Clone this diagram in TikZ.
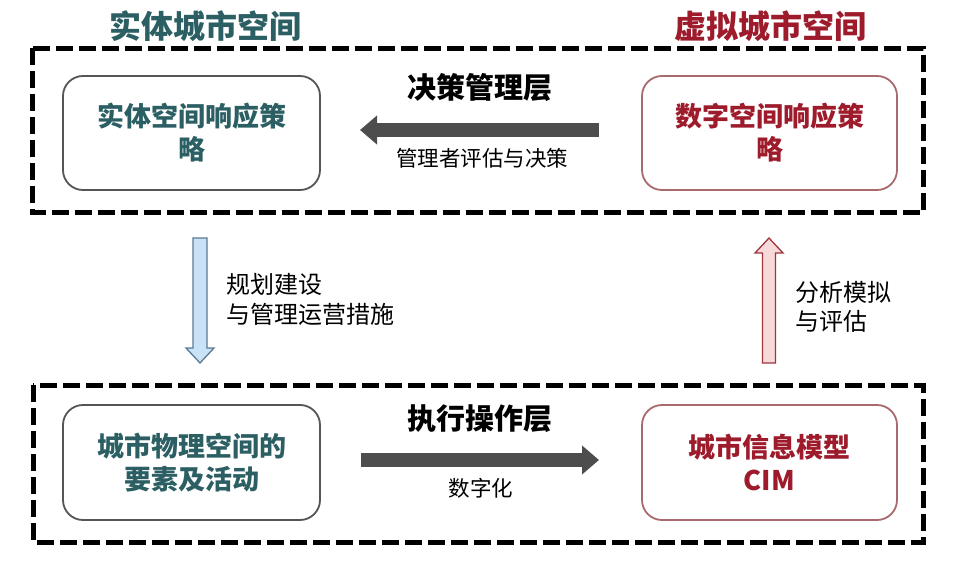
\documentclass[tikz,border=0pt]{standalone}
\usepackage{fontspec}
\setmainfont{Noto Sans CJK SC}
\usetikzlibrary{arrows.meta}
\definecolor{tealtxt}{HTML}{2C5F63}
\definecolor{redtxt}{HTML}{9E1B2C}
\definecolor{boxgray}{HTML}{555555}
\definecolor{boxred}{HTML}{A86A6E}
\definecolor{arrowgray}{HTML}{4D4D4D}
\definecolor{bluefill}{HTML}{C9E2F5}
\definecolor{blueline}{HTML}{5B7B95}
\definecolor{pinkfill}{HTML}{F8D9D9}
\definecolor{pinkline}{HTML}{A0343C}
\tikzset{
  layerbox/.style={draw=black, line width=5pt, dash pattern=on 17pt off 6pt},
  stratbox/.style={draw=boxgray, line width=1.8pt, rounded corners=20pt, fill=white},
  virtbox/.style={draw=boxred, line width=1.8pt, rounded corners=20pt, fill=white},
  boxtext/.style={font=\bfseries\fontsize{27}{33}\selectfont, align=center},
  titletext/.style={font=\bfseries\fontsize{32}{36}\selectfont},
  layertext/.style={font=\bfseries\fontsize{29}{33}\selectfont, text=black},
  smalltext/.style={font=\fontsize{21.5}{26}\selectfont, text=black},
  sidetext/.style={font=\fontsize{24}{29.5}\selectfont, text=black, align=left, anchor=west},
  fatarrow/.style={line width=14pt, -{Triangle[width=28pt,length=17pt]}, color=arrowgray}
}
\begin{document}
\begin{tikzpicture}[x=1pt,y=-1pt]
\useasboundingbox (0,0) rectangle (956,564);
\fill[white] (0,0) rectangle (956,564);
% dashed layer frames
\draw[layerbox] (32,48.5) rectangle (923,213) coordinate (topframe);
\draw[layerbox] (33,385) rectangle (923,542) coordinate (botframe);
% titles
\node[titletext, text=tealtxt] (t1) at (205,26) {实体城市空间};
\node[titletext, text=redtxt] (t2) at (770,26) {虚拟城市空间};
% strategy boxes
\node[stratbox, minimum width=257pt, minimum height=114pt] (a) at (191.5,133) {};
\node[boxtext, text=tealtxt] at (a) {实体空间响应策\\略};
\node[virtbox, minimum width=255pt, minimum height=114pt] (b) at (769.5,133) {};
\node[boxtext, text=redtxt] at (b) {数字空间响应策\\略};
\node[stratbox, minimum width=257pt, minimum height=115pt] (c) at (191.5,462.5) {};
\node[boxtext, text=tealtxt] at (c) {城市物理空间的\\要素及活动};
\node[virtbox, minimum width=255pt, minimum height=115pt] (d) at (769.5,462.5) {};
\node[boxtext, text=redtxt] at (d) {城市信息模型\\CIM};
% layer labels
\node[layertext] (l1) at (480,88) {决策管理层};
\node[smalltext] (s1) at (482,158) {管理者评估与决策};
\node[layertext] (l2) at (480,419) {执行操作层};
\node[smalltext] (s2) at (481,488) {数字化};
% horizontal arrows
\coordinate (h1s) at (599,130);
\coordinate (h1e) at (360,130);
\draw[fatarrow] (h1s) -- (h1e);
\coordinate (h2s) at (361,460);
\coordinate (h2e) at (599,460);
\draw[fatarrow] (h2s) -- (h2e);
% vertical arrows (outlined block arrows)
\coordinate (va) at (200,238);
\draw[draw=blueline, fill=bluefill, line width=1.3pt, line join=miter]
  (193,238) -- (207,238) -- (207,348) -- (214,348) -- (200,363) -- (186,348) -- (193,348) -- cycle;
\draw[draw=pinkline, fill=pinkfill, line width=1.3pt, line join=miter]
  (762.5,363) -- (775.5,363) -- (775.5,253) -- (783,253) -- (769,238) -- (755,253) -- (762.5,253) -- cycle;
% side labels
\node[sidetext] (g1) at (223,299.5) {规划建设\\与管理运营措施};
\node[sidetext] (g2) at (792,307) {分析模拟\\与评估};
\end{tikzpicture}
\end{document}
